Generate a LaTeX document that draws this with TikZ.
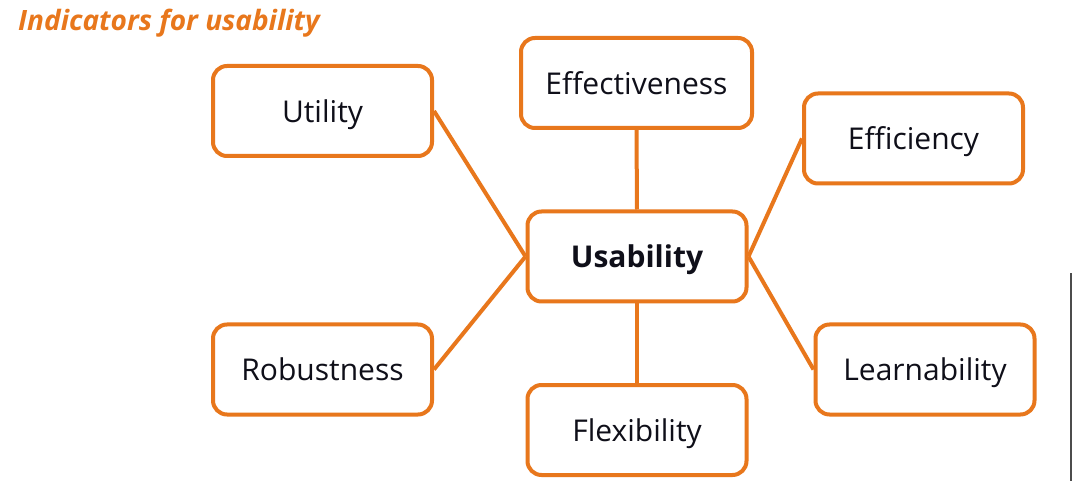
\documentclass[tikz,border=0pt]{standalone}
\usepackage{fontspec}
\setmainfont{Open Sans}
\definecolor{orng}{RGB}{232,119,28}
\definecolor{txt}{RGB}{15,15,25}
\begin{document}
\begin{tikzpicture}[x=1pt,y=-1pt,
  box/.style={draw=orng,line width=4pt,rounded corners=14pt,minimum width=219pt,minimum height=90pt,inner sep=0pt,text height=28pt,text depth=5pt,text=txt,font=\fontsize{30}{36}\selectfont},
  link/.style={draw=orng,line width=4pt}]
\useasboundingbox (0,0) rectangle (1072,481);
\fill[white] (0,0) rectangle (1072,481);
\node[anchor=base west,text=orng,font=\fontsize{28}{34}\selectfont\bfseries\itshape,inner sep=0pt] (title) at (18,31) {Indicators for usability};
\node[box] (uti) at (322.5,111) {Utility};
\node[box,minimum width=231pt] (eff) at (636.5,83) {Effectiveness};
\node[box] (effi) at (913.5,138.5) {Efficiency};
\node[box,font=\fontsize{30}{36}\selectfont\bfseries] (usa) at (637,256.5) {Usability};
\node[box] (rob) at (322.5,369.5) {Robustness};
\node[box] (flex) at (637,430) {Flexibility};
\node[box] (lea) at (925,369.5) {Learnability};
\draw[link] (uti.east) -- (usa.west);
\draw[link] (rob.east) -- (usa.west);
\draw[link] (eff.south) -- (usa.north);
\draw[link] (flex.north) -- (usa.south);
\draw[link] (effi.west) -- (usa.east);
\draw[link] (lea.west) -- (usa.east);
\fill[black!70] (1069.5,273) rectangle (1072,481);
\end{tikzpicture}
\end{document}
